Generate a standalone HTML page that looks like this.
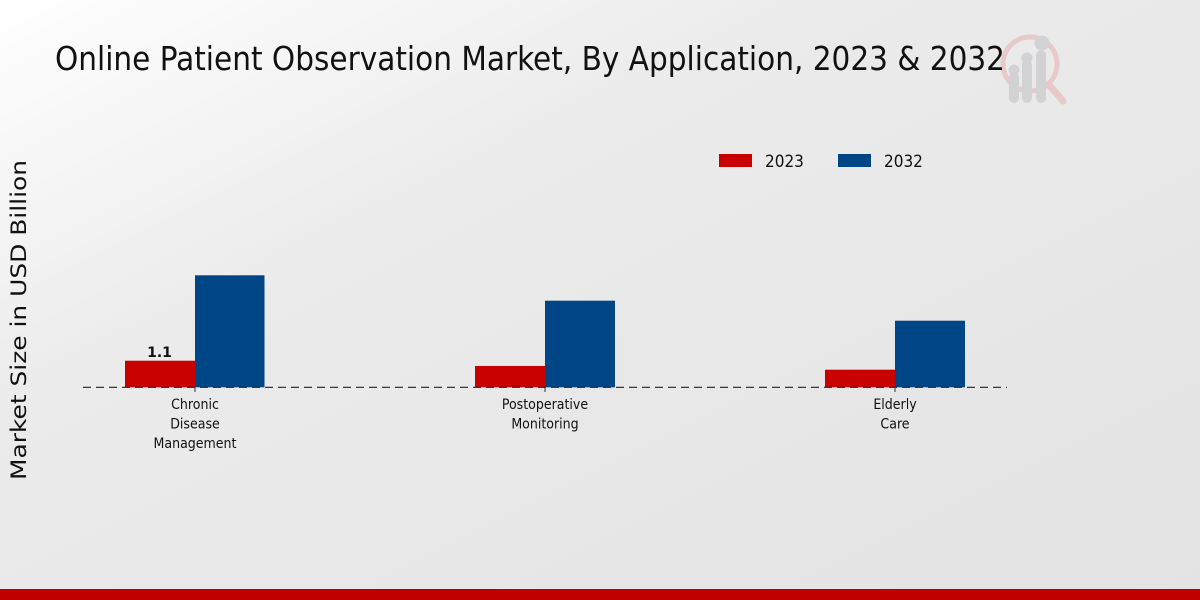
<!DOCTYPE html>
<html><head><meta charset="utf-8"><style>
html,body{margin:0;padding:0;width:1200px;height:600px;overflow:hidden}
svg{display:block}
text{font-family:"DejaVu Sans","Liberation Sans",sans-serif}
</style></head><body>
<svg width="1200" height="600" viewBox="0 0 1200 600" xmlns="http://www.w3.org/2000/svg">
<defs>
<linearGradient id="bg" x1="0" y1="0" x2="1" y2="1" gradientUnits="objectBoundingBox">
<stop offset="0" stop-color="#ffffff"/>
<stop offset="0.35" stop-color="#ebebeb"/>
<stop offset="1" stop-color="#e3e3e3"/>
</linearGradient>
</defs>
<rect x="0" y="0" width="1200" height="600" fill="url(#bg)"/>
<rect x="0" y="589" width="1200" height="11" fill="#c00000"/>

<!-- logo -->
<g opacity="0.6">
<circle cx="1030" cy="64" r="27" fill="none" stroke="#e6b4b4" stroke-width="5"/>
<line x1="1050" y1="86" x2="1063" y2="101" stroke="#e6b4b4" stroke-width="7" stroke-linecap="round"/>
<rect x="1009" y="72" width="10" height="31" rx="5" fill="#c4c4c8"/>
<rect x="1022" y="60" width="10" height="43" rx="5" fill="#c4c4c8"/>
<rect x="1036" y="50" width="10" height="53" rx="5" fill="#c4c4c8"/>
<circle cx="1014" cy="70" r="5.5" fill="#c4c4c8"/>
<circle cx="1027" cy="58" r="5.5" fill="#c4c4c8"/>
<circle cx="1042" cy="43" r="7.5" fill="#c4c4c8"/>
</g>

<text x="55" y="70" font-size="33" font-stretch="condensed" fill="#111" textLength="950" lengthAdjust="spacingAndGlyphs">Online Patient Observation Market, By Application, 2023 &amp; 2032</text>

<text transform="translate(26,320) rotate(-90)" text-anchor="middle" font-size="21" fill="#111" textLength="320" lengthAdjust="spacingAndGlyphs">Market Size in USD Billion</text>

<!-- legend -->
<rect x="719" y="154" width="33" height="13" fill="#c80000"/>
<text x="765" y="167" font-size="17" font-stretch="condensed" fill="#111">2023</text>
<rect x="838" y="154" width="33" height="13" fill="#004586"/>
<text x="884" y="167" font-size="17" font-stretch="condensed" fill="#111">2032</text>

<!-- bars -->
<rect x="125" y="360.7" width="70" height="26.6" fill="#c80000"/>
<rect x="195" y="275.3" width="69.5" height="112" fill="#004586"/>
<rect x="475" y="366" width="70" height="21.3" fill="#c80000"/>
<rect x="545" y="300.7" width="70" height="86.6" fill="#004586"/>
<rect x="825" y="369.7" width="70" height="17.6" fill="#c80000"/>
<rect x="895" y="320.7" width="70" height="66.6" fill="#004586"/>

<line x1="83" y1="387.3" x2="1007" y2="387.3" stroke="#222" stroke-width="1.2" stroke-dasharray="8,5"/>
<line x1="195" y1="387" x2="195" y2="392" stroke="#333" stroke-width="1"/>
<line x1="545" y1="387" x2="545" y2="392" stroke="#333" stroke-width="1"/>
<line x1="895" y1="387" x2="895" y2="392" stroke="#333" stroke-width="1"/>

<text x="159.5" y="357" text-anchor="middle" font-size="14" font-weight="bold" fill="#111">1.1</text>

<g font-size="14" font-stretch="condensed" fill="#111" text-anchor="middle">
<text x="195" y="409">Chronic</text>
<text x="195" y="428.5">Disease</text>
<text x="195" y="448">Management</text>
<text x="545" y="409">Postoperative</text>
<text x="545" y="428.5">Monitoring</text>
<text x="895" y="409">Elderly</text>
<text x="895" y="428.5">Care</text>
</g>
</svg>
</body></html>
